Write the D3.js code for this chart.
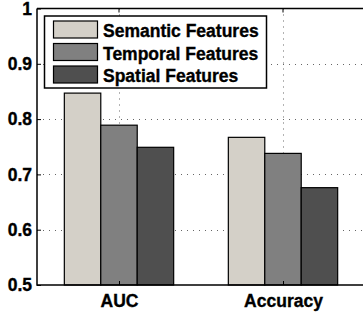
<!DOCTYPE html>
<html>
<head>
<meta charset="utf-8">
<script src="https://cdn.jsdelivr.net/npm/d3@7"></script>
<style>
  body { margin: 0; background: #fff; }
  svg { display: block; }
  text { font-family: "Liberation Sans", Arial, sans-serif; font-weight: bold; fill: #000; stroke: #000; stroke-width: 0.35px; }
</style>
</head>
<body>
<svg id="chart" width="363" height="313"></svg>
<script>
const categories = ["AUC", "Accuracy"];
const series_names = ["Semantic Features", "Temporal Features", "Spatial Features"];
const semantic_values = [0.847, 0.767];
const temporal_values = [0.789, 0.738];
const spatial_values = [0.749, 0.676];
const y_ticks = [0.5, 0.6, 0.7, 0.8, 0.9, 1];
const y_tick_labels = ["0.5", "0.6", "0.7", "0.8", "0.9", "1"];

const series = [semantic_values, temporal_values, spatial_values];
const colors = ["#d4d0c8", "#808080", "#4f4f4f"];

function draw_bars() {
    const svg = d3.select("#chart");
    const left = 37, right = 365, top = 8.5, bottom = 285;
    const font_size = 17.5;

    const x = d3.scaleLinear().domain([0.5, 2.5]).range([left, right]);
    const y = d3.scaleLinear().domain([0.5, 1]).range([bottom, top]);

    // matlab style grouped bars
    const bar_w = 2 / 9;

    // grid
    const grid = svg.append("g")
        .attr("stroke", "#666")
        .attr("stroke-width", 1)
        .attr("stroke-dasharray", "1,5");
    grid.selectAll(".hg")
        .data(y_ticks.slice(1, -1))
        .join("line")
        .attr("x1", left).attr("x2", right)
        .attr("y1", d => Math.round(y(d)) + 0.5)
        .attr("y2", d => Math.round(y(d)) + 0.5);
    grid.selectAll(".vg")
        .data([1, 2])
        .join("line")
        .attr("x1", d => Math.round(x(d)) + 0.5)
        .attr("x2", d => Math.round(x(d)) + 0.5)
        .attr("y1", top).attr("y2", bottom);

    // bars
    series.forEach((vals, s) => {
        svg.append("g")
            .selectAll("rect")
            .data(vals)
            .join("rect")
            .attr("x", (d, i) => x(i + 1 + (s - 1) * bar_w - bar_w / 2))
            .attr("width", x(bar_w) - x(0))
            .attr("y", d => y(d))
            .attr("height", d => y(0.5) - y(d))
            .attr("fill", colors[s])
            .attr("stroke", "#000")
            .attr("stroke-width", 1.2);
    });

    // axes box
    svg.append("path")
        .attr("d", `M${left},${top}H${right}M${left},${top}V${bottom}H${right}`)
        .attr("fill", "none")
        .attr("stroke", "#000")
        .attr("stroke-width", 1.5);

    const y_axis = d3.axisLeft(y)
        .tickValues(y_ticks)
        .tickFormat((d, i) => y_tick_labels[i])
        .tickSizeInner(-4)
        .tickSizeOuter(0)
        .tickPadding(5);
    const ya = svg.append("g").attr("transform", `translate(${left},0)`).call(y_axis);
    ya.select(".domain").remove();
    ya.selectAll("line").attr("stroke", "#000");
    ya.selectAll("text").attr("font-size", font_size).attr("fill", null);

    const x_axis = d3.axisBottom(x)
        .tickValues([1, 2])
        .tickFormat((d, i) => categories[i])
        .tickSizeInner(-4)
        .tickSizeOuter(0)
        .tickPadding(10);
    const xa = svg.append("g").attr("transform", `translate(0,${bottom})`).call(x_axis);
    xa.select(".domain").remove();
    xa.selectAll("line").attr("stroke", "#000");
    xa.selectAll("text").attr("font-size", font_size).attr("fill", null);
    ya.attr("font-family", null).attr("font-size", null);
    xa.attr("font-family", null).attr("font-size", null);

    // top ticks
    svg.append("g").selectAll("line")
        .data([1, 2])
        .join("line")
        .attr("x1", d => x(d)).attr("x2", d => x(d))
        .attr("y1", top).attr("y2", top + 4)
        .attr("stroke", "#000");

    // legend
    const legend = svg.append("g");
    legend.append("rect")
        .attr("x", 44.5).attr("y", 16)
        .attr("width", 222).attr("height", 72)
        .attr("fill", "#fff")
        .attr("stroke", "#000")
        .attr("stroke-width", 1.5);
    const row = legend.selectAll(".row")
        .data(series_names)
        .join("g")
        .attr("transform", (d, i) => `translate(0,${21 + i * 22.5})`);
    row.append("rect")
        .attr("x", 53.5).attr("y", 0)
        .attr("width", 44).attr("height", 17)
        .attr("fill", (d, i) => colors[i])
        .attr("stroke", "#000")
        .attr("stroke-width", 1.2);
    row.append("text")
        .attr("x", 103).attr("y", 16.3)
        .attr("font-size", font_size)
        .text(d => d);
}

draw_bars();
</script>
</body>
</html>
